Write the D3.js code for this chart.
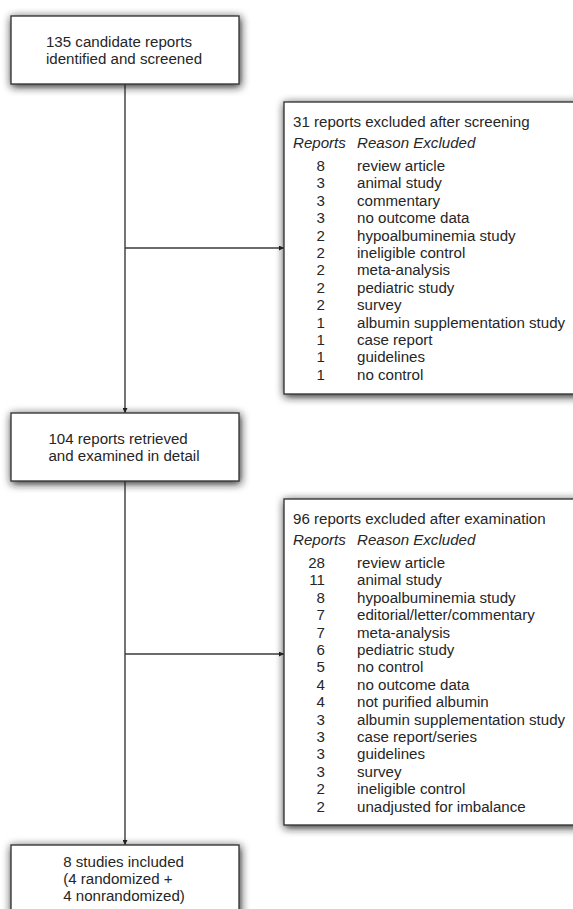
<!DOCTYPE html>
<html>
<head>
<meta charset="utf-8">
<script src="https://cdn.jsdelivr.net/npm/d3@7"></script>
<style>
  html, body { margin: 0; padding: 0; background: #fff; }
  svg { display: block; }
</style>
</head>
<body>
<svg id="flow"></svg>
<script>
// main flow boxes (top to bottom)
const mainSteps = [
  ['135 candidate reports', 'identified and screened'],
  ['104 reports retrieved', 'and examined in detail'],
  ['8 studies included', '(4 randomized +', '4 nonrandomized)']
];

// exclusions after screening
const screenTitle = '31 reports excluded after screening';
const screenCounts = [8, 3, 3, 3, 2, 2, 2, 2, 2, 1, 1, 1, 1];
const screenReasons = [
  'review article', 'animal study', 'commentary', 'no outcome data',
  'hypoalbuminemia study', 'ineligible control', 'meta-analysis',
  'pediatric study', 'survey', 'albumin supplementation study',
  'case report', 'guidelines', 'no control'
];

// exclusions after full examination
const examTitle = '96 reports excluded after examination';
const examCounts = [28, 11, 8, 7, 7, 6, 5, 4, 4, 3, 3, 3, 3, 2, 2];
const examReasons = [
  'review article', 'animal study', 'hypoalbuminemia study',
  'editorial/letter/commentary', 'meta-analysis', 'pediatric study',
  'no control', 'no outcome data', 'not purified albumin',
  'albumin supplementation study', 'case report/series', 'guidelines',
  'survey', 'ineligible control', 'unadjusted for imbalance'
];

const headerLabels = ['Reports', 'Reason Excluded'];

const width = 573, height = 909;
const font = '"Liberation Sans", Arial, Helvetica, sans-serif';
const fontSize = 15.1;
const ink = '#262626';
const lineColor = '#3a3a3a';
const rowStep = 17.4;

const svg = d3.select('#flow')
  .attr('width', width)
  .attr('height', height)
  .style('font-family', font);

const defs = svg.append('defs');
const shadow = defs.append('filter')
  .attr('id', 'box-shadow')
  .attr('x', '-15%').attr('y', '-15%')
  .attr('width', '130%').attr('height', '140%');
shadow.append('feDropShadow')
  .attr('dx', 1).attr('dy', 2)
  .attr('stdDeviation', 4)
  .attr('flood-color', '#1a1a1a')
  .attr('flood-opacity', 1);

defs.append('marker')
  .attr('id', 'arrow')
  .attr('viewBox', '0 0 10 10')
  .attr('refX', 10).attr('refY', 5)
  .attr('markerWidth', 6).attr('markerHeight', 5)
  .attr('markerUnits', 'userSpaceOnUse')
  .attr('orient', 'auto')
  .append('path')
  .attr('d', 'M0,0 L10,5 L0,10 Z')
  .attr('fill', '#222');

// layout of boxes
const mainBoxes = [
  { x: 11, y: 16, w: 228, h: 68 },
  { x: 11, y: 413, w: 228, h: 68 },
  { x: 11, y: 845, w: 228, h: 80 }
];
const sideBoxes = [
  { x: 284, y: 102, w: 300, h: 292, title: screenTitle, counts: screenCounts, reasons: screenReasons, arrowY: 248 },
  { x: 284, y: 499, w: 300, h: 326, title: examTitle, counts: examCounts, reasons: examReasons, arrowY: 654 }
];
const spineX = 125;

// connectors
const links = svg.append('g')
  .attr('stroke', lineColor)
  .attr('stroke-width', 1.4)
  .attr('fill', 'none');

for (let i = 0; i < mainBoxes.length - 1; i++) {
  links.append('line')
    .attr('x1', spineX).attr('x2', spineX)
    .attr('y1', mainBoxes[i].y + mainBoxes[i].h)
    .attr('y2', mainBoxes[i + 1].y)
    .attr('marker-end', 'url(#arrow)');
}
sideBoxes.forEach(b => {
  links.append('line')
    .attr('x1', spineX).attr('x2', b.x)
    .attr('y1', b.arrowY).attr('y2', b.arrowY)
    .attr('marker-end', 'url(#arrow)');
});

// main boxes
mainBoxes.forEach((b, i) => {
  const g = svg.append('g');
  g.append('rect')
    .attr('x', b.x).attr('y', b.y)
    .attr('width', b.w).attr('height', b.h)
    .attr('fill', '#fff')
    .attr('stroke', lineColor)
    .attr('stroke-width', 1.4)
    .attr('filter', 'url(#box-shadow)');

  const lines = mainSteps[i];
  const firstY = i < 2 ? b.y + b.h / 2 - 8.5 : b.y + 16;
  const ly = d3.scaleLinear().domain([0, 1]).range([firstY, firstY + 17.4]);
  const txt = g.append('g')
    .selectAll('text')
    .data(lines)
    .join('text')
    .attr('x', 0)
    .attr('y', (d, k) => ly(k))
    .attr('dominant-baseline', 'central')
    .attr('font-size', fontSize)
    .attr('fill', ink)
    .text(d => d);
  const maxW = d3.max(txt.nodes(), n => n.getComputedTextLength());
  txt.attr('x', spineX - 1 - maxW / 2);
});

// side boxes with exclusion tables
sideBoxes.forEach(b => {
  const g = svg.append('g');
  g.append('rect')
    .attr('x', b.x).attr('y', b.y)
    .attr('width', b.w).attr('height', b.h)
    .attr('fill', '#fff')
    .attr('stroke', lineColor)
    .attr('stroke-width', 1.4)
    .attr('filter', 'url(#box-shadow)');

  const textX = b.x + 9;
  const numRight = b.x + 41;
  const reasonX = b.x + 73;

  g.append('text')
    .attr('x', textX)
    .attr('y', b.y + 19.5)
    .attr('dominant-baseline', 'central')
    .attr('font-size', fontSize)
    .attr('fill', ink)
    .text(b.title);

  g.append('text')
    .attr('x', textX)
    .attr('y', b.y + 40.5)
    .attr('dominant-baseline', 'central')
    .attr('font-size', fontSize)
    .attr('font-style', 'italic')
    .attr('fill', ink)
    .text(headerLabels[0]);
  g.append('text')
    .attr('x', reasonX)
    .attr('y', b.y + 40.5)
    .attr('dominant-baseline', 'central')
    .attr('font-size', fontSize)
    .attr('font-style', 'italic')
    .attr('fill', ink)
    .text(headerLabels[1]);

  const n = b.reasons.length;
  const rowY = d3.scaleLinear()
    .domain([0, n - 1])
    .range([b.y + 63.5, b.y + 63.5 + rowStep * (n - 1)]);

  const rows = g.selectAll('g.row')
    .data(b.reasons.map((r, k) => ({ count: b.counts[k], reason: r, k })))
    .join('g')
    .attr('class', 'row');

  rows.append('text')
    .attr('x', numRight)
    .attr('y', d => rowY(d.k))
    .attr('text-anchor', 'end')
    .attr('dominant-baseline', 'central')
    .attr('font-size', fontSize)
    .attr('fill', ink)
    .text(d => d.count);

  rows.append('text')
    .attr('x', reasonX)
    .attr('y', d => rowY(d.k))
    .attr('dominant-baseline', 'central')
    .attr('font-size', fontSize)
    .attr('fill', ink)
    .text(d => d.reason);
});
</script>
</body>
</html>
